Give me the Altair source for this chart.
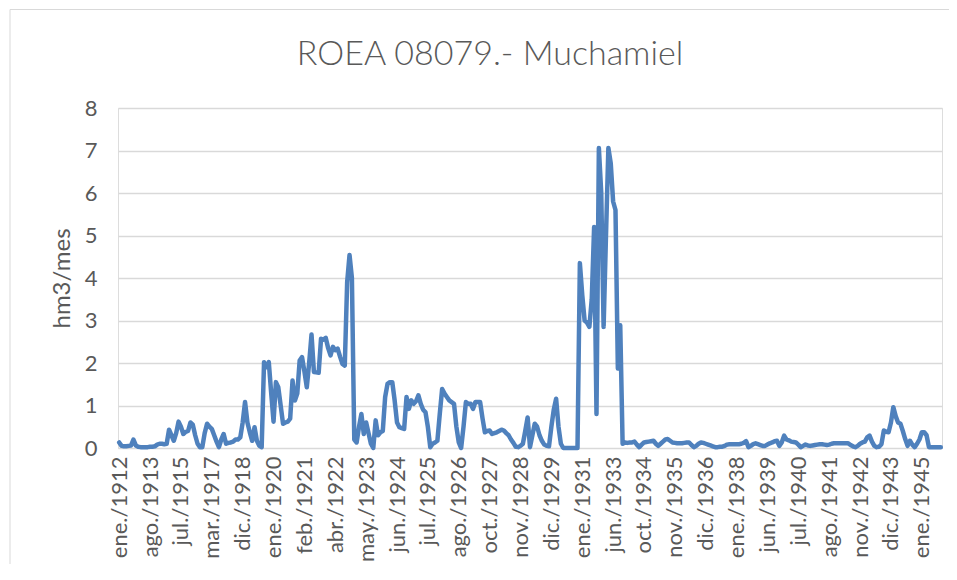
import json
import altair as alt
import pandas as pd

title_text = "ROEA 08079.- Muchamiel"
y_title = "hm3/mes"

# Category tick labels (every 13th category of the monthly series)
tick_labels = [
    "ene./1912", "ago./1913", "jul./1915", "mar./1917", "dic./1918",
    "ene./1920", "feb./1921", "abr./1922", "may./1923", "jun./1924",
    "jul./1925", "ago./1926", "oct./1927", "nov./1928", "dic./1929",
    "ene./1931", "jun./1933", "oct./1934", "nov./1935", "dic./1936",
    "ene./1938", "jun./1939", "jul./1940", "ago./1941", "nov./1942",
    "dic./1943", "ene./1945",
]
label_step = 13

# Monthly volume (hm3/mes), one per category
values = [
    0.13, 0.05, 0.04, 0.04, 0.05, 0.06, 0.2, 0.06, 0.03, 0.02,
    0.02, 0.02, 0.02, 0.03, 0.03, 0.04, 0.08, 0.1, 0.1, 0.09,
    0.1, 0.43, 0.3, 0.17, 0.35, 0.62, 0.5, 0.33, 0.38, 0.4,
    0.6, 0.55, 0.3, 0.1, 0.02, 0.02, 0.35, 0.57, 0.5, 0.45,
    0.3, 0.15, 0.02, 0.2, 0.33, 0.1, 0.12, 0.13, 0.15, 0.2,
    0.2, 0.25, 0.6, 1.08, 0.6, 0.37, 0.17, 0.49, 0.17, 0.05,
    0.02, 2.02, 1.9, 2.02, 1.3, 0.62, 1.55, 1.43, 1.0, 0.57,
    0.6, 0.62, 0.69, 1.59, 1.12, 1.28, 2.06, 2.14, 1.8, 1.43,
    2.0, 2.67, 1.79, 1.78, 1.77, 2.57, 2.55, 2.59, 2.35, 2.18,
    2.38, 2.3, 2.34, 2.15, 1.98, 1.94, 3.9, 4.54, 4.0, 0.2,
    0.13, 0.5, 0.8, 0.33, 0.6, 0.35, 0.1, 0.0, 0.65, 0.3,
    0.37, 0.4, 1.2, 1.51, 1.55, 1.55, 1.12, 0.6, 0.49, 0.47,
    0.45, 1.2, 0.92, 1.12, 1.04, 1.1, 1.24, 1.04, 0.9, 0.84,
    0.49, 0.02, 0.1, 0.13, 0.17, 0.8, 1.39, 1.28, 1.2, 1.12,
    1.08, 1.04, 0.5, 0.13, 0.0, 0.5, 1.08, 1.04, 1.04, 0.92,
    1.08, 1.08, 1.08, 0.7, 0.37, 0.4, 0.41, 0.33, 0.35, 0.37,
    0.4, 0.43, 0.41, 0.35, 0.3, 0.2, 0.12, 0.03, 0.02, 0.05,
    0.1, 0.4, 0.72, 0.02, 0.3, 0.57, 0.5, 0.3, 0.17, 0.08,
    0.05, 0.04, 0.5, 0.9, 1.16, 0.5, 0.1, 0.0, 0.0, 0.0,
    0.0, 0.0, 0.0, 0.0, 4.35, 3.6, 3.0, 2.95, 2.85, 3.5,
    5.2, 0.8, 7.06, 6.0, 2.85, 5.0, 7.06, 6.7, 5.8, 5.6,
    1.87, 2.89, 0.1, 0.13, 0.12, 0.13, 0.13, 0.15, 0.08, 0.02,
    0.08, 0.13, 0.14, 0.15, 0.16, 0.17, 0.1, 0.05, 0.1, 0.15,
    0.2, 0.21, 0.17, 0.13, 0.12, 0.11, 0.11, 0.11, 0.12, 0.13,
    0.13, 0.07, 0.02, 0.05, 0.1, 0.13, 0.12, 0.1, 0.08, 0.06,
    0.04, 0.02, 0.02, 0.03, 0.03, 0.05, 0.08, 0.09, 0.09, 0.09,
    0.09, 0.09, 0.1, 0.12, 0.16, 0.02, 0.05, 0.09, 0.11, 0.09,
    0.07, 0.05, 0.05, 0.08, 0.11, 0.13, 0.16, 0.17, 0.05, 0.13,
    0.29, 0.2, 0.18, 0.15, 0.14, 0.13, 0.08, 0.02, 0.05, 0.08,
    0.06, 0.05, 0.06, 0.07, 0.08, 0.09, 0.09, 0.08, 0.07, 0.08,
    0.1, 0.11, 0.11, 0.11, 0.11, 0.11, 0.11, 0.11, 0.07, 0.04,
    0.02, 0.05, 0.1, 0.13, 0.15, 0.25, 0.29, 0.15, 0.05, 0.02,
    0.03, 0.09, 0.41, 0.38, 0.37, 0.6, 0.96, 0.75, 0.6, 0.57,
    0.4, 0.21, 0.05, 0.17, 0.08, 0.02, 0.1, 0.2, 0.37, 0.37,
    0.3, 0.02, 0.02, 0.02, 0.02, 0.02, 0.02,
]

N = len(values)
df = pd.DataFrame({"idx": list(range(N)), "v": values})

W, H = 824, 340
PAD = {"left": 110, "top": 100, "right": 7, "bottom": 124}
FONT = "Lato"
GREY = "#595959"

label_expr = f"{json.dumps(tick_labels)}[round(datum.value / {label_step})]"

line = alt.Chart(df).mark_line(
    color="#4f81bd", strokeWidth=4.5, strokeJoin="round", strokeCap="round"
).encode(
    x=alt.X(
        "idx:Q",
        scale=alt.Scale(domain=[-0.5, N - 0.5], nice=False, zero=False),
        axis=alt.Axis(
            values=list(range(0, N, label_step)),
            labelExpr=label_expr,
            labelAngle=-90,
            labelFont=FONT,
            labelFontSize=22,
            labelColor=GREY,
            labelPadding=8,
            labelOverlap=False,
            labelFlush=False,
            ticks=False,
            domain=False,
            grid=False,
            title=None,
        ),
    ),
    y=alt.Y(
        "v:Q",
        scale=alt.Scale(domain=[0, 8], nice=False),
        axis=alt.Axis(
            values=list(range(0, 9)),
            labelFont=FONT,
            labelFontSize=22,
            labelColor=GREY,
            labelPadding=21,
            ticks=False,
            domain=False,
            gridColor="#d9d9d9",
            gridWidth=1.5,
            title=y_title,
            titleFont=FONT,
            titleFontSize=24,
            titleFontWeight="normal",
            titleColor=GREY,
            titlePadding=10,
        ),
    ),
)

frame_df = pd.DataFrame({"a": [0]})
border_left = alt.Chart(frame_df).mark_rule(color="#d9d9d9", strokeWidth=1).encode(
    x=alt.value(-108), y=alt.value(-98.5), y2=alt.value(456)
)
border_top = alt.Chart(frame_df).mark_rule(color="#d9d9d9", strokeWidth=1).encode(
    x=alt.value(-108), x2=alt.value(831), y=alt.value(-98.5)
)

chart = alt.layer(border_left, border_top, line).properties(
    width=W,
    height=H,
    autosize=alt.AutoSizeParams(type="none"),
    padding=PAD,
    title=alt.TitleParams(
        title_text,
        font=FONT,
        fontSize=34,
        fontWeight=300,
        color=GREY,
        anchor="middle",
        frame="group",
        dx=-40,
        offset=-63,
    ),
).configure_view(stroke=None).configure(background="white")

chart.save("out.html", embed_options={"renderer": "svg", "actions": False})
